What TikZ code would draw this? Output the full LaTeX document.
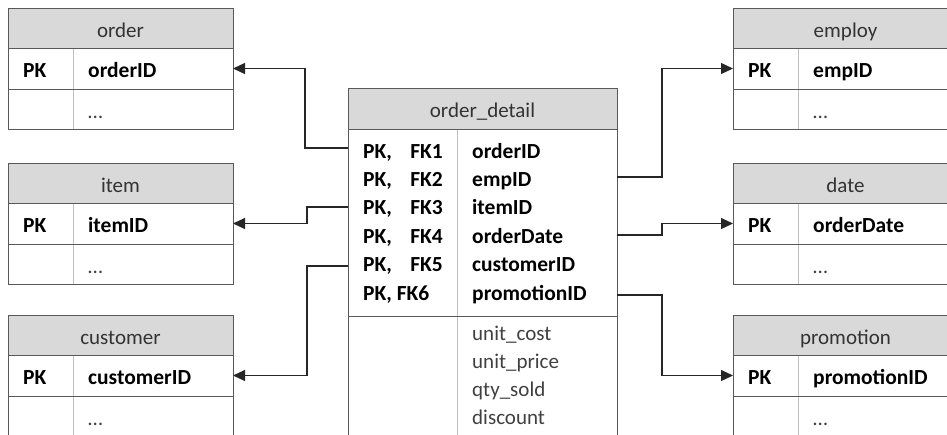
\documentclass[tikz,border=0pt]{standalone}
\usepackage{fontspec}
\setmainfont{Carlito}
\usepackage{tikz}
\usetikzlibrary{arrows.meta}

\begin{document}
\begin{tikzpicture}[x=1pt, y=-1pt,
    hdrfill/.style={fill=gray!30},
    border/.style={draw=black!65, line width=1pt},
    divider/.style={draw=black!25, line width=0.8pt},
    hdr/.style={inner sep=0pt, anchor=base, text=black!80, font=\fontsize{21}{24}\selectfont},
    fld/.style={inner sep=0pt, anchor=base west, text=black, font=\fontsize{21.5}{24}\selectfont\bfseries},
    attr/.style={inner sep=0pt, anchor=base west, text=black!75, font=\fontsize{21}{24}\selectfont},
    conn/.style={draw=black!85, line width=1.2pt, -{Triangle[length=12pt,width=11pt]}}]
    % Parameters
    \def\tblW{225}
    \def\divX{65}

    \useasboundingbox (0,0) rectangle (947,434);
    \clip (0,0) rectangle (947,434);

    % Dimension tables
    \foreach \tname/\tx/\ty/\ttitle/\tkey in {order/8/8/order/orderID, item/8/163/item/itemID, customer/8/315/customer/customerID,
        employ/733/8/employ/empID, date/733/163/date/orderDate, promotion/733/315/promotion/promotionID} {
        \begin{scope}[shift={(\tx,\ty)}]
            \fill[hdrfill] (0,0) rectangle (\tblW,40);
            \draw[divider] (\divX,40) -- (\divX,121);
            \draw[border] (0,0) rectangle (\tblW,121);
            \draw[border] (0,40) -- (\tblW,40) (0,81) -- (\tblW,81);
            \node[hdr] (\tname-h) at (\tblW/2,29) {\ttitle};
            \node[fld] (\tname-pk) at (15,69) {PK};
            \node[fld] (\tname-key) at (80,69) {\tkey};
            \node[attr] (\tname-etc) at (80,110) {…};
            \coordinate (\tname-w) at (0,60.5);
            \coordinate (\tname-e) at (\tblW,60.5);
        \end{scope}
    }

    % Fact table order_detail
    \fill[hdrfill] (348,88) rectangle (617,129);
    \draw[divider] (457,129) -- (457,440);
    \draw[border] (348,440) -- (348,88) -- (617,88) -- (617,440);
    \draw[border] (348,129) -- (617,129) (348,316) -- (617,316);
    \node[hdr] (od-h) at (482.5,117) {order\_detail};

    \foreach \i/\fld in {1/orderID, 2/empID, 3/itemID, 4/orderDate, 5/customerID} {
        \node[fld] (od-pk\i) at (363,{158+28.4*(\i-1)}) {PK,};
        \node[fld, anchor=base east] (od-fk\i) at (443,{158+28.4*(\i-1)}) {FK\i};
        \node[fld] (od-\fld) at (472,{158+28.4*(\i-1)}) {\fld};
    }
    \node[fld] (od-pk6) at (363,300) {PK, FK6};
    \node[fld] (od-promotionID) at (472,300) {promotionID};

    \foreach \i/\att in {0/unit\_cost, 1/unit\_price, 2/qty\_sold, 3/discount}
        \node[attr] (od-att\i) at (472,{340+28.3*\i}) {\att};

    % Ports on order_detail
    \coordinate (od-l1) at (348,148);
    \coordinate (od-l3) at (348,207);
    \coordinate (od-l5) at (348,266);
    \coordinate (od-r2) at (617,177);
    \coordinate (od-r4) at (617,235);
    \coordinate (od-r6) at (617,295);

    % Connectors
    \draw[conn] (od-l1) -- ++(-43,0) |- (order-e);
    \draw[conn] (od-l3) -- ++(-41,0) |- (item-e);
    \draw[conn] (od-l5) -- ++(-41,0) |- (customer-e);
    \draw[conn] (od-r2) -- ++(45,0) |- (employ-w);
    \draw[conn] (od-r4) -- ++(45,0) |- (date-w);
    \draw[conn] (od-r6) -- ++(45,0) |- (promotion-w);
\end{tikzpicture}
\end{document}
